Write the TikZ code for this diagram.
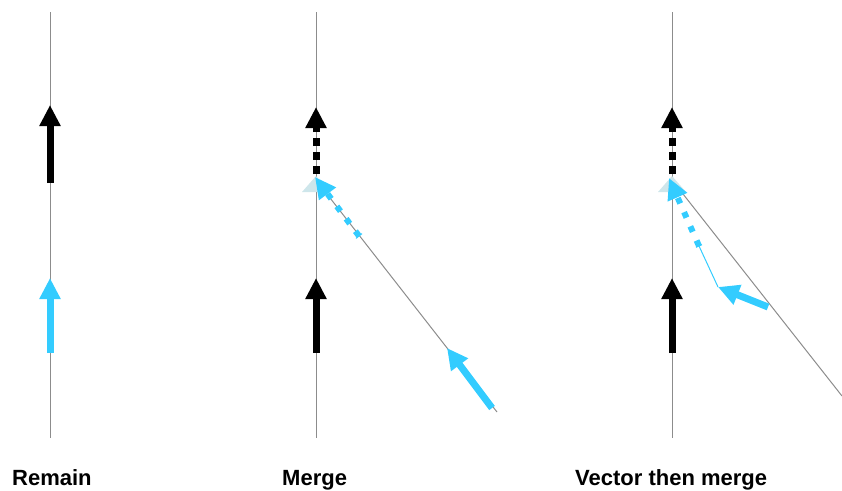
\documentclass[tikz,border=0pt]{standalone}
\usepackage{fontspec}
\setmainfont{Liberation Sans}
\usetikzlibrary{arrows.meta, calc}
\definecolor{mvblue}{RGB}{51,204,255}
\definecolor{ghost}{RGB}{206,230,235}
\definecolor{track}{RGB}{140,140,140}

\begin{document}
\begin{tikzpicture}[x=1pt, y=-1pt,
    trackline/.style={draw=track, line width=1pt},
    fat/.style={line width=7pt, -{Triangle[width=20pt, length=21pt]}},
    dotted fat/.style={fat, dash pattern=on 8pt off 6pt},
    dotted thin/.style={fat, line width=6pt, dash pattern=on 6pt off 9.5pt},
    label/.style={anchor=base west, inner sep=0pt, font=\bfseries\fontsize{22}{26}\selectfont}]
    \useasboundingbox (0,0) rectangle (842,490);

    % Tracks
    \foreach \x/\n in {50/A,316/B,672/C} {
        \coordinate (top\n) at (\x,12);
        \coordinate (bot\n) at (\x,438);
        \draw[trackline] (top\n) -- (bot\n);
    }
    \coordinate (joinB) at (316,180);
    \coordinate (endB) at (497,412);
    \coordinate (joinC) at (672,180);
    \coordinate (endC) at (842,396);
    \draw[trackline] (joinB) -- (endB);
    \draw[trackline] (joinC) -- (endC);

    % Remain
    \coordinate (A1) at (50,183);
    \coordinate (A2) at (50,105);
    \coordinate (A3) at (50,353);
    \coordinate (A4) at (50,278);
    \draw[fat, black] (A1) -- (A2);
    \draw[fat, mvblue] (A3) -- (A4);

    % Merge
    \coordinate (B1) at (316,353);
    \coordinate (B2) at (316,278);
    \coordinate (B3) at (316,174);
    \coordinate (B4) at (316,107);
    \draw[fat, black] (B1) -- (B2);
    \draw[dotted fat, black] (B3) -- (B4);
    \fill[ghost] (302,192) -- (316,176) -- (330,192) -- cycle;
    \coordinate (B5) at (359,236);
    \coordinate (B6) at (315,177);
    \draw[mvblue, line width=1pt] ($(B5)+(-3,2.4)$) -- ($(B5)+(3,-2.4)$);
    \draw[dotted thin, mvblue] (B5) -- (B6);
    \coordinate (B7) at (492,408);
    \coordinate (B8) at (447,348);
    \draw[fat, mvblue] (B7) -- (B8);

    % Vector then merge
    \coordinate (C1) at (672,353);
    \coordinate (C2) at (672,278);
    \coordinate (C3) at (672,174);
    \coordinate (C4) at (672,107);
    \draw[fat, black] (C1) -- (C2);
    \draw[dotted fat, black] (C3) -- (C4);
    \fill[ghost] (658,192) -- (672,176) -- (686,192) -- cycle;
    \coordinate (C5) at (718,287);
    \coordinate (C6) at (699,246);
    \coordinate (C7) at (669,178);
    \coordinate (C8) at (768,307);
    \draw[mvblue, line width=1pt] (C5) -- (C6);
    \draw[mvblue, line width=1pt] ($(C6)+(-3,1.3)$) -- ($(C6)+(3,-1.3)$);
    \draw[dotted thin, mvblue] (C6) -- (C7);
    \draw[fat, mvblue] (C8) -- (C5);

    % Labels
    \node[label] (remain) at (12,485) {Remain};
    \node[label] (merge) at (282,485) {Merge};
    \node[label] (vecmerge) at (575,485) {Vector then merge};
\end{tikzpicture}
\end{document}
